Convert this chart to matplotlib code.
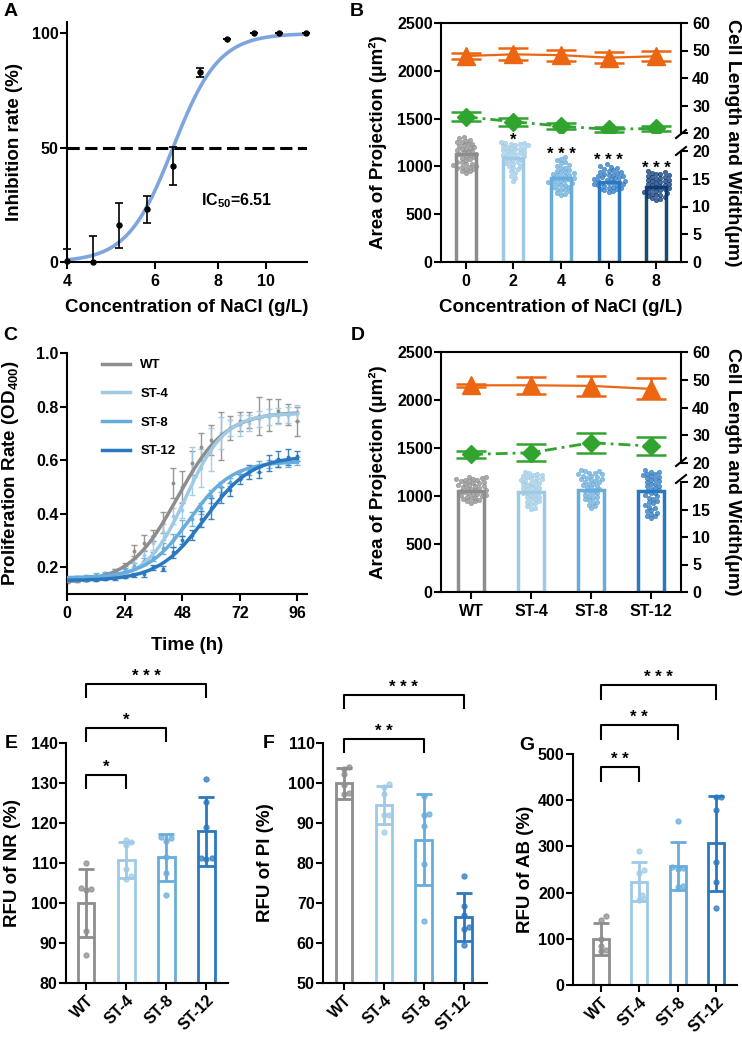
import numpy as np
import matplotlib
matplotlib.use('Agg')
import matplotlib.pyplot as plt
from matplotlib.lines import Line2D
from matplotlib.ticker import NullLocator

plt.rcParams['font.family'] = ['Liberation Sans', 'DejaVu Sans']
plt.rcParams['font.weight'] = 'bold'
plt.rcParams['axes.labelweight'] = 'bold'
plt.rcParams['mathtext.default'] = 'regular'
plt.rcParams['axes.linewidth'] = 1.5
plt.rcParams['xtick.major.width'] = 1.5
plt.rcParams['ytick.major.width'] = 1.5
plt.rcParams['xtick.major.size'] = 5
plt.rcParams['ytick.major.size'] = 5
plt.rcParams['ytick.major.pad'] = 1
plt.rcParams['xtick.labelsize'] = 11.5
plt.rcParams['ytick.labelsize'] = 11.5

LABEL_FS = 13.5

# ---------------- data ----------------
# A: inhibition vs NaCl
a_conc = [4.0, 4.5, 5.08, 5.77, 6.5, 7.36, 8.33, 9.43, 10.6, 12.0]
a_inhib = [0.5, 0.2, 16, 23, 42, 83, 97.5, 100, 100, 100]
a_err = [5, 11, 10, 6, 8.5, 2, 0, 0, 0, 0]
a_ic50 = 6.51
a_hill = 9.5

# B: projection area and cell length/width vs NaCl
b_labels = ['0', '2', '4', '6', '8']
b_area = [1130, 1085, 876, 841, 782]
b_length = [48.0, 48.6, 48.3, 47.4, 47.9]
b_length_err = [1.0, 2.2, 2.0, 2.0, 1.8]
b_width = [25.9, 24.1, 22.5, 21.3, 21.7]
b_width_err = [1.6, 1.5, 1.0, 0.8, 0.9]
b_stars = ['', '*', '* * *', '* * *', '* * *']
b_star_y = [0, 1192, 1046, 983, 900]
b_cells = [
    [932, 947, 955, 969, 974, 986, 989, 996, 1006, 1011, 1022, 1029, 1045, 1050, 1066, 1073, 1091, 1095,
     1110, 1116, 1128, 1133, 1146, 1150, 1162, 1167, 1181, 1184, 1197, 1202, 1215, 1220, 1233, 1238, 1251,
     1256, 1270, 1277, 1294, 1308],
    [848, 882, 903, 931, 948, 970, 983, 1000, 1008, 1024, 1031, 1046, 1053, 1066, 1071, 1084, 1089, 1102,
     1106, 1118, 1122, 1134, 1138, 1150, 1154, 1165, 1168, 1179, 1182, 1193, 1196, 1207, 1210, 1220, 1222,
     1232, 1234, 1244, 1245, 1252],
    [700, 714, 723, 740, 748, 762, 768, 782, 788, 802, 806, 818, 822, 834, 838, 850, 853, 864, 868, 879,
     882, 893, 896, 907, 910, 922, 926, 938, 943, 957, 964, 980, 988, 1005, 1016, 1034, 1046, 1065, 1078, 1098],
    [728, 742, 748, 760, 764, 775, 778, 789, 791, 801, 803, 813, 815, 825, 827, 837, 839, 849, 851, 861,
     863, 873, 875, 885, 887, 897, 900, 911, 914, 925, 928, 940, 944, 956, 961, 974, 980, 995, 1004, 1022],
    [650, 662, 668, 681, 686, 699, 703, 715, 719, 731, 735, 747, 750, 761, 764, 775, 778, 789, 792, 803,
     806, 817, 820, 831, 834, 845, 848, 859, 862, 873, 876, 887, 891, 903, 907, 919, 923, 935, 940, 952],
]

# C: growth curves
groups = ['WT', 'ST-4', 'ST-8', 'ST-12']
c_time = [0, 4, 8, 12, 16, 20, 24, 28, 32, 36, 40, 44, 48, 52, 56, 60, 64, 68, 72, 76, 80, 84, 88, 92, 96]
c_mean = [
    [0.146, 0.150, 0.154, 0.161, 0.171, 0.186, 0.207, 0.262, 0.292, 0.318, 0.368, 0.515, 0.500, 0.590,
     0.650, 0.675, 0.690, 0.720, 0.745, 0.750, 0.765, 0.770, 0.785, 0.770, 0.745],
    [0.150, 0.152, 0.155, 0.158, 0.163, 0.172, 0.185, 0.215, 0.245, 0.290, 0.330, 0.390, 0.415, 0.560,
     0.570, 0.640, 0.700, 0.720, 0.730, 0.740, 0.755, 0.760, 0.765, 0.770, 0.775],
    [0.160, 0.163, 0.167, 0.172, 0.178, 0.186, 0.195, 0.205, 0.222, 0.240, 0.270, 0.300, 0.345, 0.380,
     0.420, 0.465, 0.500, 0.520, 0.545, 0.560, 0.575, 0.585, 0.590, 0.590, 0.595],
    [0.150, 0.151, 0.152, 0.154, 0.156, 0.159, 0.164, 0.170, 0.175, 0.200, 0.195, 0.255, 0.300, 0.320,
     0.380, 0.420, 0.470, 0.490, 0.530, 0.555, 0.555, 0.590, 0.605, 0.610, 0.615],
]
c_err = [
    [0.004, 0.004, 0.005, 0.005, 0.006, 0.008, 0.010, 0.020, 0.030, 0.020, 0.040, 0.055, 0.060, 0.045,
     0.050, 0.055, 0.090, 0.045, 0.035, 0.030, 0.070, 0.060, 0.045, 0.040, 0.055],
    [0.004, 0.004, 0.004, 0.005, 0.005, 0.006, 0.008, 0.015, 0.020, 0.025, 0.030, 0.030, 0.030, 0.090,
     0.070, 0.080, 0.060, 0.030, 0.040, 0.030, 0.030, 0.030, 0.030, 0.030, 0.030],
    [0.004, 0.004, 0.004, 0.005, 0.005, 0.006, 0.008, 0.010, 0.012, 0.015, 0.020, 0.025, 0.030, 0.025,
     0.020, 0.025, 0.020, 0.015, 0.015, 0.015, 0.020, 0.015, 0.015, 0.015, 0.015],
    [0.003, 0.003, 0.004, 0.004, 0.004, 0.005, 0.006, 0.008, 0.010, 0.010, 0.010, 0.020, 0.015, 0.020,
     0.030, 0.040, 0.030, 0.025, 0.020, 0.025, 0.020, 0.030, 0.030, 0.030, 0.020],
]
# logistic fit parameters: bottom, top, midpoint (h), scale (h)
c_fit = [(0.14, 0.78, 46.0, 10.0), (0.15, 0.775, 49.6, 8.2), (0.16, 0.595, 51.0, 8.9), (0.15, 0.615, 57.5, 9.7)]

# D: strains
d_area = [1050, 1040, 1060, 1050]
d_length = [48.0, 48.0, 47.8, 46.7]
d_length_err = [0.5, 3.0, 3.5, 3.8]
d_width = [23.1, 23.7, 27.3, 26.1]
d_width_err = [1.4, 3.0, 3.6, 3.1]
d_cells = [
    [930, 943, 951, 963, 969, 979, 984, 993, 997, 1006, 1011, 1019, 1024, 1033, 1037, 1046, 1051, 1059,
     1064, 1073, 1077, 1086, 1091, 1099, 1104, 1113, 1117, 1126, 1131, 1139, 1144, 1153, 1157, 1165, 1169,
     1177, 1181, 1189, 1193, 1200],
    [862, 880, 893, 912, 923, 940, 948, 964, 971, 986, 993, 1007, 1013, 1027, 1032, 1045, 1050, 1063, 1068,
     1081, 1086, 1099, 1104, 1117, 1122, 1135, 1140, 1152, 1156, 1168, 1172, 1184, 1188, 1200, 1204, 1216,
     1220, 1232, 1238, 1252],
    [872, 892, 906, 927, 938, 957, 966, 982, 990, 1005, 1012, 1027, 1033, 1047, 1053, 1067, 1073, 1087,
     1093, 1107, 1112, 1125, 1130, 1143, 1148, 1160, 1164, 1176, 1180, 1192, 1196, 1208, 1212, 1224, 1228,
     1240, 1244, 1256, 1260, 1272],
    [772, 787, 796, 814, 824, 844, 856, 877, 890, 910, 922, 942, 953, 972, 983, 1000, 1010, 1027, 1036,
     1052, 1060, 1076, 1084, 1100, 1108, 1123, 1130, 1145, 1152, 1167, 1174, 1188, 1194, 1208, 1214, 1228,
     1234, 1248, 1254, 1268],
]

# E/F/G: fluorescence assays
e_mean = [100.0, 110.7, 111.4, 117.9]
e_sd = [8.5, 4.5, 5.9, 8.6]
e_pts = [[110.1, 103.6, 103.8, 103.2, 93.1, 86.9], [115.8, 115.2, 114.6, 108.5, 106.7, 105.9],
         [116.3, 116.4, 115.5, 111.4, 107.5, 101.9], [130.9, 125.2, 119.1, 111.2, 111.0, 111.3]]
e_pairs = [1, 2, 3]
e_tops = [132.0, 143.75, 154.75]
e_marks = ['*', '*', '* * *']

f_mean = [99.9, 94.5, 85.8, 66.6]
f_sd = [3.8, 4.7, 11.4, 6.0]
f_pts = [[104.0, 103.6, 102.3, 99.6, 97.4, 97.3], [99.8, 99.0, 97.3, 92.1, 92.0, 87.8],
         [96.7, 92.3, 92.1, 89.2, 79.8, 65.6], [76.7, 69.3, 67.0, 64.0, 63.6, 59.4]]
f_pairs = [2, 3]
f_tops = [111.0, 122.0]
f_marks = ['* *', '* * *']

g_mean = [100, 224, 257, 307]
g_sd = [35, 42, 52, 103]
g_pts = [[149, 141, 100, 85, 76, 73], [291, 249, 242, 195, 186, 185],
         [354, 256, 253, 252, 214, 213], [408, 408, 379, 266, 222, 167]]
g_pairs = [1, 2, 3]
g_tops = [471.9, 562.8, 649.4]
g_marks = ['* *', '* *', '* * *']

# ---------------- styles ----------------
GREY = '#8d8d8d'
C4 = '#9ecae6'
C8 = '#67acdb'
C12 = '#2a78c0'
strain_colors = [GREY, C4, C8, C12]
b_edge = [GREY, C4, C8, C12, '#1b4a70']
b_dot = [GREY, C4, C8, C12, '#0c3a78']
ORANGE = '#ec6611'
GREEN = '#31a42f'

W, H = 742, 1039
fig = plt.figure(figsize=(W / 100, H / 100), dpi=100)
all_axes = []


def px_axes(left, top, right, bottom):
    ax = fig.add_axes([left / W, 1 - bottom / H, (right - left) / W, (bottom - top) / H])
    all_axes.append(ax)
    return ax


def fig_line(x1, y1, x2, y2, lw=1.5):
    fig.add_artist(Line2D([x1 / W, x2 / W], [1 - y1 / H, 1 - y2 / H], transform=fig.transFigure,
                          color='black', lw=lw))


def swarm(ax, xc, vals, d_px):
    vals = np.asarray(vals, float)
    pts = ax.transData.transform(np.column_stack([np.full(len(vals), float(xc)), vals]))
    inv = ax.transData.inverted()
    placed = []
    xs = np.empty(len(vals))
    for i in np.argsort(vals):
        px, py = pts[i]
        k = 0
        found = None
        while found is None:
            cands = [0.0] if k == 0 else [k * d_px * 0.5, -k * d_px * 0.5]
            for c in cands:
                if all((px + c - qx) ** 2 + (py - qy) ** 2 >= (0.92 * d_px) ** 2 for qx, qy in placed):
                    found = px + c
                    break
            k += 1
        placed.append((found, py))
        xs[i] = inv.transform((found, py))[0]
    return xs


def panel_label(x, y, s):
    fig.text(x / W, 1 - y / H, s, fontsize=14, fontweight='bold', ha='center', va='center')


def star_text(ax, x, y, s):
    ax.text(x, y, s, ha='center', va='bottom', fontsize=12, fontweight='bold', clip_on=False)


# ================= A =================
axA = px_axes(67, 22, 307, 262)
axA.set_xscale('log')
axA.set_xlim(4, 12.05)
axA.set_ylim(0, 105)
xx = np.geomspace(4, 12, 300)
axA.plot(xx, 100 / (1 + (a_ic50 / xx) ** a_hill), color='#7ea5de', lw=2.6, zorder=2)
axA.axhline(50, color='black', lw=2.2, ls=(0, (4, 1.8)), zorder=1)
a_low = [min(e, v) for e, v in zip(a_err, a_inhib)]
axA.errorbar(a_conc, a_inhib, yerr=[a_low, a_err], fmt='o', color='black', ms=3.6, capsize=3,
             elinewidth=1.2, capthick=1.2, zorder=3, clip_on=False)
axA.set_xticks([4, 6, 8, 10])
axA.set_xticklabels(['4', '6', '8', '10'])
axA.xaxis.set_minor_locator(NullLocator())
axA.set_yticks([0, 50, 100])
axA.text(7.4, 27, 'IC$_{50}$=6.51', fontsize=11.5, fontweight='bold', va='center')
axA.spines['top'].set_visible(False)
axA.spines['right'].set_visible(False)
axA.set_ylabel('Inhibition rate (%)', fontsize=LABEL_FS)
axA.yaxis.set_label_coords(-0.183, 0.5)
axA.set_xlabel('Concentration of NaCl (g/L)', fontsize=LABEL_FS)
axA.xaxis.set_label_coords(0.5, -0.155)


# ================= B / D (bars + broken right axis) =================
def size_panel(box, labels, area, cells, edge_cols, dot_cols, length, length_err, width, width_err,
               right_split, marks_y, xlim, stars=None, star_y=None, xlabel=None):
    left, top, right, bottom = box
    up_bot, lo_top = right_split
    ax = px_axes(left, top, right, bottom)
    ax.set_xlim(*xlim)
    ax.set_ylim(0, 2500)
    ax.set_yticks([0, 500, 1000, 1500, 2000, 2500])
    ax.spines['right'].set_visible(False)
    x = np.arange(len(labels))
    ax.bar(x, area, width=0.42, facecolor='white', edgecolor=edge_cols, linewidth=2.5, zorder=2)
    for i, vals in enumerate(cells):
        xs = swarm(ax, i, vals, 4.2)
        ax.scatter(xs, vals, s=10, facecolor=dot_cols[i], edgecolor=dot_cols[i], linewidths=0.5,
                   alpha=0.75, zorder=3)
    ax.set_xticks(x)
    ax.set_xticklabels(labels)
    if stars:
        for i, s in enumerate(stars):
            if s:
                star_text(ax, i, star_y[i], s)
    ax.set_ylabel('Area of Projection (μm²)', fontsize=LABEL_FS)
    ax.yaxis.set_label_coords(-0.225, 0.5)
    if xlabel:
        ax.set_xlabel(xlabel, fontsize=LABEL_FS)
        ax.xaxis.set_label_coords(0.5, -0.155)

    axu = px_axes(left, top, right, up_bot)
    axl = px_axes(left, lo_top, right, bottom)
    for a, lim, ticks in ((axu, (20, 60), [20, 30, 40, 50, 60]), (axl, (0, 20), [0, 5, 10, 15, 20])):
        a.patch.set_visible(False)
        a.set_xlim(*xlim)
        a.set_ylim(*lim)
        a.set_xticks([])
        a.yaxis.tick_right()
        a.set_yticks(ticks)
        a.tick_params(axis='y', pad=3)
        for sp in ('left', 'top', 'bottom'):
            a.spines[sp].set_visible(False)
    axu.errorbar(x, length, yerr=length_err, color=ORANGE, lw=1.6, marker='^', ms=12.5, capsize=11,
                 elinewidth=1.8, capthick=1.8, zorder=4)
    axu.errorbar(x, width, yerr=width_err, color=GREEN, lw=2, ls=(0, (4.3, 1.8, 1, 1.8)), marker='D',
                 ms=9, capsize=11, elinewidth=1.8, capthick=1.8, zorder=4)
    for y1, y2 in marks_y:
        fig_line(right - 5, y2, right + 5, y1, lw=1.5)
    fig.text((right + 52) / W, 1 - ((top + bottom) / 2) / H, 'Cell Length and Width(μm)', rotation=270,
             fontsize=14, fontweight='bold', ha='center', va='center')
    return ax


size_panel((441, 23, 681, 262), b_labels, b_area, b_cells, b_edge, b_dot, b_length, b_length_err,
           b_width, b_width_err, (133, 151), [(130, 138), (147, 155)], (-0.52, 4.52),
           stars=b_stars, star_y=b_star_y, xlabel='Concentration of NaCl (g/L)')

size_panel((441, 352, 681, 592), groups, d_area, d_cells, strain_colors, strain_colors, d_length,
           d_length_err, d_width, d_width_err, (463, 482), [(458, 466), (475, 483)], (-0.5, 3.5))

# ================= C =================
axC = px_axes(67, 353, 307, 594)
axC.set_xlim(0, 100)
axC.set_ylim(0.1, 1.0)
axC.spines['top'].set_visible(False)
axC.spines['right'].set_visible(False)
tt = np.linspace(0, 96, 300)
for i, g in enumerate(groups):
    b, tp, t0, sc = c_fit[i]
    col = strain_colors[i]
    axC.errorbar(c_time, c_mean[i], yerr=c_err[i], fmt='o', ms=1.8, color=col, capsize=2.2,
                 elinewidth=1.0, capthick=1.0, alpha=0.9, zorder=2)
    axC.plot(tt, b + (tp - b) / (1 + np.exp(-(tt - t0) / sc)), color=col, lw=2.5, label=g, zorder=3)
axC.set_xticks([0, 24, 48, 72, 96])
axC.set_yticks([0.2, 0.4, 0.6, 0.8, 1.0])
axC.set_yticklabels(['0.2', '0.4', '0.6', '0.8', '1.0'])
leg = axC.legend(loc='upper left', bbox_to_anchor=(0.146, 0.975), frameon=False, fontsize=9.5,
                 handlelength=2.1, handletextpad=0.8, labelspacing=1.25, borderpad=0, borderaxespad=0)
for txt in leg.get_texts():
    txt.set_fontweight('bold')
axC.set_ylabel('Proliferation Rate (OD$_{400}$)', fontsize=LABEL_FS)
axC.yaxis.set_label_coords(-0.19, 0.5)
axC.set_xlabel('Time (h)', fontsize=LABEL_FS)
axC.xaxis.set_label_coords(0.5, -0.178)


# ================= E / F / G =================
def rfu_panel(box, xlim, ylim, yticks, means, sds, pts, pairs, tops, leg, marks, ylabel, label_x):
    ax = px_axes(*box)
    ax.set_xlim(*xlim)
    ax.set_ylim(*ylim)
    ax.set_yticks(yticks)
    ax.spines['top'].set_visible(False)
    ax.spines['right'].set_visible(False)
    x = np.arange(4)
    ax.bar(x, [m - ylim[0] for m in means], bottom=ylim[0], width=0.42, facecolor='white',
           edgecolor=strain_colors, linewidth=2, zorder=2)
    for i in range(4):
        xs = swarm(ax, i, pts[i], 5.2)
        ax.scatter(xs, pts[i], s=14, facecolor=strain_colors[i], edgecolor=strain_colors[i],
                   linewidths=0.8, alpha=0.75, zorder=3)
        ax.errorbar(i, means[i], yerr=sds[i], color=strain_colors[i], capsize=6, elinewidth=2,
                    capthick=2, zorder=4)
    ax.set_xticks(x)
    ax.set_xticklabels(groups, rotation=45, ha='right', rotation_mode='anchor')
    ax.tick_params(axis='x', pad=2)
    for j, tp, s in zip(pairs, tops, marks):
        ax.plot([0, 0, j, j], [tp - leg, tp, tp, tp - leg], color='black', lw=1.5, clip_on=False)
        star_text(ax, j / 2, tp, s)
    ax.set_ylabel(ylabel, fontsize=LABEL_FS)
    ax.yaxis.set_label_coords(label_x, 0.5)
    return ax


rfu_panel((66, 743, 228, 983), (-0.5, 3.54), (80, 140), [80, 90, 100, 110, 120, 130, 140], e_mean, e_sd,
          e_pts, e_pairs, e_tops, 3.25, e_marks, 'RFU of NR (%)', -0.278)
rfu_panel((323, 743, 487, 983), (-0.53, 3.59), (50, 110), [50, 60, 70, 80, 90, 100, 110], f_mean, f_sd,
          f_pts, f_pairs, f_tops, 3.25, f_marks, 'RFU of PI (%)', -0.30)
rfu_panel((573, 754, 737, 985), (-0.73, 3.55), (0, 500), [0, 100, 200, 300, 400, 500], g_mean, g_sd,
          g_pts, g_pairs, g_tops, 30.3, g_marks, 'RFU of AB (%)', -0.238)

for lx, ly, s in ((11, 12, 'A'), (357, 12, 'B'), (10, 335, 'C'), (358, 335, 'D'),
                  (11, 743, 'E'), (269, 743, 'F'), (527, 745, 'G')):
    panel_label(lx, ly, s)

for ax in all_axes:
    for lab in ax.get_xticklabels() + ax.get_yticklabels():
        lab.set_fontweight('bold')

fig.savefig('out.png', dpi=100)
